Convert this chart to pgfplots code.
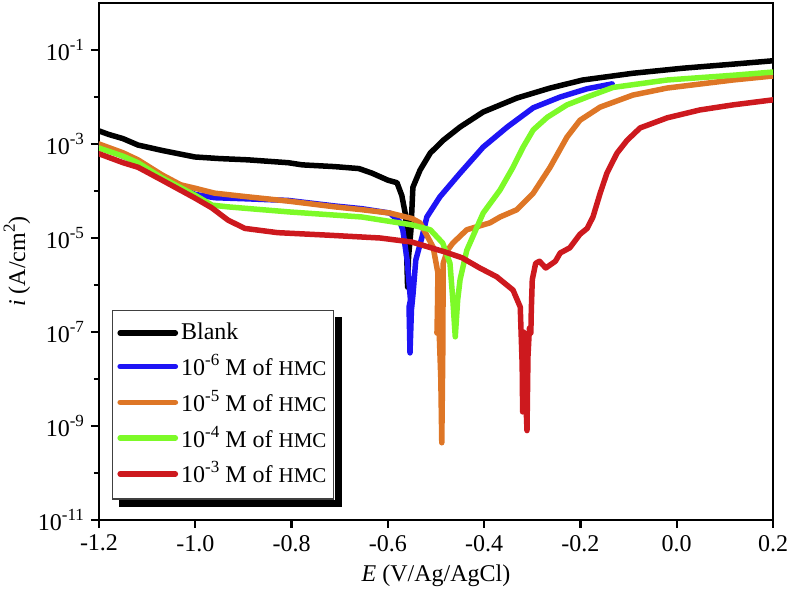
\documentclass[border=0pt]{standalone}
\usepackage{fontspec}
\setmainfont{Liberation Serif}
\usepackage{pgfplots}
\pgfplotsset{compat=1.18}
\definecolor{cblue}{RGB}{30,20,245}
\definecolor{corange}{RGB}{222,118,38}
\definecolor{cgreen}{RGB}{125,250,40}
\definecolor{cred}{RGB}{205,25,30}
\newcommand\sups[1]{\raisebox{0.42em}{\fontsize{8.5}{9}\selectfont #1}}
\newcommand\hmc{{\fontsize{10.5}{12}\selectfont HMC}}
\begin{document}
\begin{tikzpicture}
\begin{axis}[
  scale only axis, width=337pt, height=258.5pt,
  xmin=-1.2, xmax=0.2, ymode=log, ymin=1e-11, ymax=1,
  axis line style={line width=1.2pt},
  xtick={-1.2,-1,-0.8,-0.6,-0.4,-0.2,0,0.2},
  xticklabels={-1.2,-1.0,-0.8,-0.6,-0.4,-0.2,0.0,0.2},
  ytick={1e-11,1e-9,1e-7,1e-5,1e-3,1e-1},
  yticklabels={10\sups{-11},10\sups{-9},10\sups{-7},10\sups{-5},10\sups{-3},10\sups{-1}},
  minor ytick={1e-10,1e-8,1e-6,1e-4,1e-2},
  tick pos=left, tick align=outside,
  major tick length=4pt, minor tick length=2.5pt,
  every tick/.style={line width=1.1pt, black},
  tick label style={font=\fontsize{12}{14}\selectfont},
  label style={font=\fontsize{12}{14}\selectfont},
  xlabel={\textit{E} (V/Ag/AgCl)},
  ylabel={\textit{i} (A/cm\sups{2})},
  ylabel shift=-3pt,
  every axis plot/.append style={line width=2.75pt, line cap=round, line join=round},
  legend image code/.code={\draw[#1] (3.9pt,0pt) -- (31.5pt,0pt);},
  legend cell align=left,
  legend style={name=leg, at={(rel axis cs:0.019,0.407)}, anchor=north west,
    draw=black!75, line width=0.6pt, fill=white,
    font=\fontsize{12}{14}\selectfont, row sep=1.75pt,
    inner xsep=2.5pt, inner ysep=4.5pt,
    nodes={inner xsep=1pt},
    /tikz/every odd column/.style={column sep=0.5pt},
    /tikz/every even column/.style={column sep=0pt}},
]
\addplot[black] coordinates {
(-1.200,1.9e-3)(-1.180,1.6e-3)(-1.150,1.3e-3)(-1.119,9.5e-4)(-1.069,7.3e-4)
(-1.001,5.3e-4)(-0.950,4.9e-4)(-0.890,4.6e-4)(-0.807,4.0e-4)(-0.778,3.6e-4)
(-0.710,3.3e-4)(-0.660,3.0e-4)(-0.633,2.4e-4)(-0.600,1.7e-4)(-0.581,1.5e-4)
(-0.571,8e-5)(-0.563,3e-5)(-0.561,5e-6)(-0.559,9e-7)(-0.557,4e-6)
(-0.552,1.5e-5)(-0.548,1.2e-4)(-0.533,2.8e-4)(-0.512,6.4e-4)(-0.485,1.2e-3)
(-0.450,2.3e-3)(-0.402,4.8e-3)(-0.332,9.5e-3)(-0.263,1.55e-2)(-0.195,2.3e-2)
(-0.091,3.2e-2)(0.013,4.1e-2)(0.117,5.0e-2)(0.200,5.9e-2)};
\addlegendentry{Blank}
\addplot[cblue] coordinates {
(-1.200,9.5e-4)(-1.150,5.5e-4)(-1.119,4.2e-4)(-1.069,2.1e-4)(-1.030,1.2e-4)
(-1.001,8.5e-5)(-0.960,7.2e-5)(-0.890,6.8e-5)(-0.807,6.3e-5)(-0.710,4.8e-5)
(-0.654,4.2e-5)(-0.596,3.4e-5)(-0.575,2.2e-5)(-0.569,1.5e-5)(-0.560,3.4e-6)
(-0.553,4.8e-7)(-0.556,3.4e-7)(-0.554,3.6e-8)(-0.551,3e-7)(-0.548,6e-7)
(-0.542,3.4e-6)(-0.529,1.05e-5)(-0.519,2.8e-5)(-0.492,7.5e-5)(-0.450,2.4e-4)
(-0.402,8.6e-4)(-0.352,2.3e-3)(-0.298,5.9e-3)(-0.242,1.0e-2)(-0.186,1.5e-2)
(-0.134,1.9e-2)};
\addlegendentry{10\sups{-6} M of \hmc}
\addplot[corange] coordinates {
(-1.200,1.0e-3)(-1.150,6.5e-4)(-1.119,4.6e-4)(-1.069,2.2e-4)(-1.030,1.35e-4)
(-1.001,1.15e-4)(-0.960,9.0e-5)(-0.890,7.5e-5)(-0.807,6.1e-5)(-0.710,4.6e-5)
(-0.654,4.0e-5)(-0.596,3.4e-5)(-0.550,2.6e-5)(-0.533,2.1e-5)(-0.506,6.4e-6)
(-0.496,1.8e-6)(-0.497,3e-7)(-0.498,9.5e-8)(-0.494,1.5e-7)(-0.490,1e-8)
(-0.488,4.4e-10)(-0.486,3e-8)(-0.485,2.9e-6)(-0.476,5.5e-6)(-0.465,7.8e-6)
(-0.436,1.5e-5)(-0.388,2.1e-5)(-0.367,2.8e-5)(-0.332,4.0e-5)(-0.298,9.0e-5)
(-0.263,3.2e-4)(-0.228,1.4e-3)(-0.201,3.2e-3)(-0.159,6.1e-3)(-0.091,1.1e-2)
(-0.020,1.55e-2)(0.117,2.3e-2)(0.200,2.8e-2)};
\addlegendentry{10\sups{-5} M of \hmc}
\addplot[cgreen] coordinates {
(-1.200,8.2e-4)(-1.150,5.5e-4)(-1.119,4.0e-4)(-1.069,1.9e-4)(-1.001,8.2e-5)
(-0.965,5.0e-5)(-0.932,4.6e-5)(-0.807,3.6e-5)(-0.654,2.8e-5)(-0.550,1.9e-5)
(-0.512,1.5e-5)(-0.486,7.8e-6)(-0.471,2.9e-6)(-0.465,4.8e-7)(-0.460,7.9e-8)
(-0.455,4.8e-7)(-0.450,1.3e-6)(-0.436,5.5e-6)(-0.402,3.4e-5)(-0.367,1.05e-4)
(-0.340,3.2e-4)(-0.319,8.6e-4)(-0.298,2.0e-3)(-0.269,3.7e-3)(-0.228,6.8e-3)
(-0.186,1.0e-2)(-0.132,1.6e-2)(-0.020,2.3e-2)(0.117,2.9e-2)(0.200,3.4e-2)};
\addlegendentry{10\sups{-4} M of \hmc}
\addplot[cred] coordinates {
(-1.200,6.2e-4)(-1.150,4.0e-4)(-1.119,3.2e-4)(-1.069,1.7e-4)(-1.001,7.1e-5)
(-0.966,4.4e-5)(-0.932,2.4e-5)(-0.897,1.6e-5)(-0.829,1.3e-5)(-0.725,1.15e-5)
(-0.616,1.0e-5)(-0.550,8.2e-6)(-0.480,5.0e-6)(-0.446,3.8e-6)(-0.409,2.3e-6)
(-0.374,1.5e-6)(-0.340,7.8e-7)(-0.325,3.4e-7)(-0.321,2e-8)(-0.320,2e-9)
(-0.318,1e-7)(-0.315,1e-8)(-0.311,8e-10)(-0.309,3e-8)(-0.306,1.2e-7)
(-0.303,9.5e-8)(-0.302,3e-7)(-0.300,1.3e-6)(-0.293,2.9e-6)(-0.285,3.2e-6)
(-0.272,2.3e-6)(-0.252,3.2e-6)(-0.242,4.8e-6)(-0.222,6.2e-6)(-0.201,1.2e-5)
(-0.186,1.6e-5)(-0.174,2.8e-5)(-0.159,9.0e-5)(-0.145,2.4e-4)(-0.124,6.4e-4)
(-0.103,1.2e-3)(-0.076,2.2e-3)(-0.020,3.6e-3)(0.048,5.3e-3)(0.117,6.8e-3)
(0.200,8.7e-3)};
\addlegendentry{10\sups{-3} M of \hmc}
\end{axis}
\fill[black] ([shift={(0.3pt,-3.5pt)}]leg.north east) rectangle ([shift={(3.9pt,-3.9pt)}]leg.south east);
\fill[black] ([shift={(3.5pt,-0.3pt)}]leg.south west) rectangle ([shift={(3.9pt,-3.9pt)}]leg.south east);
\pgfresetboundingbox
\useasboundingbox ([shift={(-49.5pt,-41.5pt)}]current axis.south west) rectangle ([shift={(9pt,1.5pt)}]current axis.north east);
\end{tikzpicture}
\end{document}
